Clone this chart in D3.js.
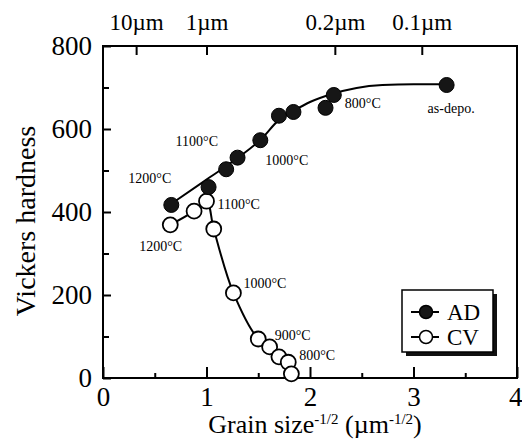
<!DOCTYPE html>
<html>
<head>
<meta charset="utf-8">
<script src="https://cdn.jsdelivr.net/npm/d3@7/dist/d3.min.js"></script>
<style>
  html, body { margin: 0; padding: 0; background: #fff; }
  svg { display: block; }
  svg text { font-family: "Times New Roman", "Liberation Serif", "DejaVu Serif", serif; fill: #000; }
</style>
</head>
<body>
<div id="chart"></div>
<script>
// Vickers hardness vs grain size^-1/2 for AD and CV samples
const xTicks = [0, 1, 2, 3, 4];
const xMinor = [0.5, 1.5, 2.5, 3.5];
const yTicks = [0, 200, 400, 600, 800];
const yMinor = [100, 300, 500, 700];
const topTickPos = [0.32, 1, 2.24, 3.08];
const topTickLabels = ['10\u00b5m', '1\u00b5m', '0.2\u00b5m', '0.1\u00b5m'];

// AD (filled) measurements
const adX = [0.66, 1.02, 1.19, 1.30, 1.52, 1.70, 1.84, 2.15, 2.23, 3.32];
const adY = [417, 460, 503, 531, 573, 632, 641, 651, 682, 706];
// fitted guide line drawn through the AD data
const adCurveX = [0.65, 1.0, 1.3, 1.53, 1.70, 1.85, 2.0, 2.22, 2.45, 2.7, 3.0, 3.33];
const adCurveY = [418, 478, 530, 576, 622, 645, 665, 685, 699, 706, 708, 708];

// CV (open) measurements
const cvX = [0.65, 0.88, 1.0, 1.07, 1.26, 1.50, 1.61, 1.70, 1.79, 1.82];
const cvY = [369, 402, 426, 359, 205, 94, 75, 51, 38, 10];

// temperature annotations: [x, y, text, dx, dy]
const adLabels = [
  [0.66, 417, '1200\u00b0C', -43, -22],
  [1.30, 531, '1100\u00b0C', -62, -12],
  [1.52, 573, '1000\u00b0C', 5, 25],
  [2.23, 682, '800\u00b0C', 11, 13],
  [3.32, 706, 'as-depo.', -19, 28]
];
const cvLabels = [
  [0.65, 369, '1200\u00b0C', -31, 26],
  [1.0, 426, '1100\u00b0C', 11, 8],
  [1.26, 205, '1000\u00b0C', 10, -5],
  [1.61, 75, '900\u00b0C', 5, -7],
  [1.79, 38, '800\u00b0C', 11, -2]
];

const W = 522, H = 448;
const margin = { top: 46, right: 5, bottom: 70, left: 103 };
const svg = d3.select('#chart').append('svg').attr('width', W).attr('height', H);

const x = d3.scaleLinear().domain([0, 4]).range([margin.left, W - margin.right]);
const y = d3.scaleLinear().domain([0, 800]).range([H - margin.bottom, margin.top]);

// frame
svg.append('rect')
  .attr('x', x(0)).attr('y', y(800))
  .attr('width', x(4) - x(0)).attr('height', y(0) - y(800))
  .attr('fill', 'none').attr('stroke', '#000').attr('stroke-width', 2);

// bottom axis (inward ticks)
const gx = svg.append('g').attr('transform', `translate(0,${y(0)})`)
  .call(d3.axisBottom(x).tickValues(xTicks).tickSize(-11).tickPadding(9).tickFormat(d3.format('d')));
gx.select('.domain').remove();
gx.selectAll('line').attr('stroke-width', 2);
gx.selectAll('text').style('font-size', '27px');
// last label sits against the right edge
gx.selectAll('text').filter(d => d === 4).attr('text-anchor', 'end').attr('dx', 5);
svg.append('g').attr('transform', `translate(0,${y(0)})`)
  .call(d3.axisBottom(x).tickValues(xMinor).tickSize(-5).tickFormat(''))
  .call(g => g.select('.domain').remove())
  .selectAll('line').attr('stroke-width', 2);

// left axis
const gy = svg.append('g').attr('transform', `translate(${x(0)},0)`)
  .call(d3.axisLeft(y).tickValues(yTicks).tickSize(-8).tickPadding(11).tickFormat(d3.format('d')));
gy.select('.domain').remove();
gy.selectAll('line').attr('stroke-width', 2);
gy.selectAll('text').style('font-size', '27px');
svg.append('g').attr('transform', `translate(${x(0)},0)`)
  .call(d3.axisLeft(y).tickValues(yMinor).tickSize(-6).tickFormat(''))
  .call(g => g.select('.domain').remove())
  .selectAll('line').attr('stroke-width', 2);

// top axis: grain size
const gt = svg.append('g').attr('transform', `translate(0,${y(800)})`)
  .call(d3.axisTop(x).tickValues(topTickPos).tickSize(-9).tickPadding(16)
    .tickFormat((d, i) => topTickLabels[i]));
gt.select('.domain').remove();
gt.selectAll('line').attr('stroke-width', 2);
gt.selectAll('text').style('font-size', '23px');

// axis titles
svg.append('text')
  .attr('transform', `translate(35,${(y(0) + y(800)) / 2 + 9}) rotate(-90)`)
  .attr('text-anchor', 'middle')
  .style('font-size', '28px')
  .text('Vickers hardness');

const xt = svg.append('text')
  .attr('x', 315).attr('y', 433)
  .attr('text-anchor', 'middle')
  .style('font-size', '26px');
xt.append('tspan').text('Grain size');
xt.append('tspan').attr('dy', -9).style('font-size', '15px').text('-1/2');
xt.append('tspan').attr('dy', 9).text(' (\u00b5m');
xt.append('tspan').attr('dy', -9).style('font-size', '15px').text('-1/2');
xt.append('tspan').attr('dy', 9).text(')');

// lines
const adPts = adCurveX.map((v, i) => [v, adCurveY[i]]);
const cvPts = cvX.map((v, i) => [v, cvY[i]]);
const line = d3.line().x(d => x(d[0])).y(d => y(d[1])).curve(d3.curveMonotoneX);
svg.append('path').attr('d', line(adPts)).attr('fill', 'none').attr('stroke', '#000').attr('stroke-width', 2);
svg.append('path').attr('d', line.curve(d3.curveCatmullRom.alpha(0.5))(cvPts))
  .attr('fill', 'none').attr('stroke', '#000').attr('stroke-width', 2);

// markers
svg.append('g').selectAll('circle').data(cvPts).enter().append('circle')
  .attr('cx', d => x(d[0])).attr('cy', d => y(d[1])).attr('r', 7.5)
  .attr('fill', '#fff').attr('stroke', '#000').attr('stroke-width', 1.8);
svg.append('g').selectAll('circle').data(adX.map((v, i) => [v, adY[i]])).enter().append('circle')
  .attr('cx', d => x(d[0])).attr('cy', d => y(d[1])).attr('r', 7.5)
  .attr('fill', '#161616').attr('stroke', '#000').attr('stroke-width', 1);

// annotations
svg.append('g').selectAll('text').data(adLabels.concat(cvLabels)).enter().append('text')
  .attr('x', d => x(d[0]) + d[3]).attr('y', d => y(d[1]) + d[4])
  .style('font-size', '14px')
  .text(d => d[2]);

// legend with drop shadow
const lg = svg.append('g').attr('transform', 'translate(402,290)');
lg.append('rect').attr('x', 4).attr('y', 4).attr('width', 91).attr('height', 62).attr('fill', '#111');
lg.append('rect').attr('width', 91).attr('height', 62).attr('fill', '#fff').attr('stroke', '#000').attr('stroke-width', 1.5);
const legItems = [['AD', '#161616'], ['CV', '#fff']];
legItems.forEach((it, i) => {
  const g = lg.append('g').attr('transform', `translate(0,${22 + i * 25})`);
  g.append('line').attr('x1', 9).attr('x2', 37).attr('stroke', '#000').attr('stroke-width', 2);
  g.append('circle').attr('cx', 24).attr('r', 6.5).attr('fill', it[1]).attr('stroke', '#000').attr('stroke-width', 1.5);
  g.append('text').attr('x', 45).attr('y', 8).style('font-size', '23px').text(it[0]);
});
</script>
</body>
</html>
